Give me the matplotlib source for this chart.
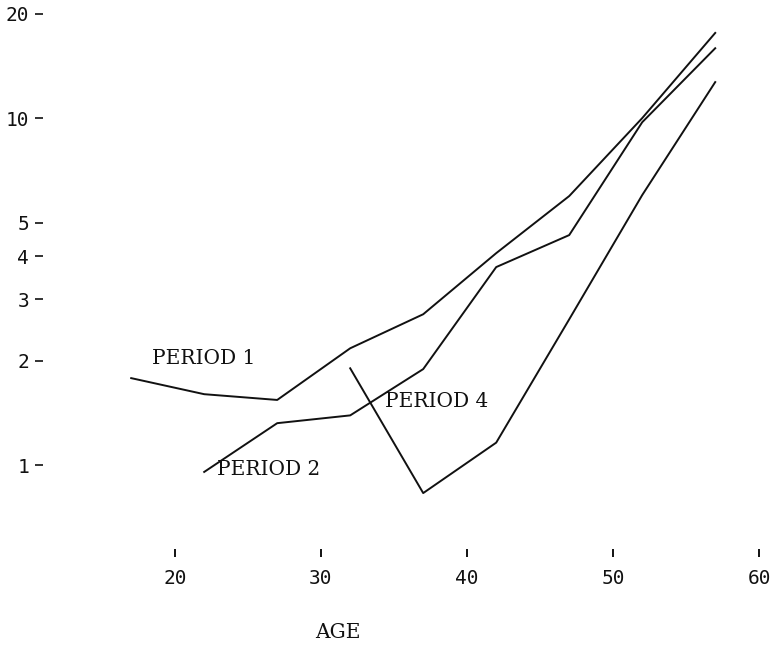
import numpy as np

import matplotlib
matplotlib.use('Agg')
import matplotlib.pyplot as plt

# age group midpoints
ages = [17, 22, 27, 32, 37, 42, 47, 52, 57]

period1 = [1.78, 1.60, 1.54, 2.17, 2.72, 4.08, 5.96, 10.0, 17.6]
period2_ages = ages[1:]
period2 = [0.955, 1.32, 1.39, 1.89, 3.72, 4.60, 9.73, 15.9]
period4_ages = [32, 37, 42, 47, 52, 57]
period4 = [1.90, 0.83, 1.16, 2.63, 6.0, 12.7]

yticks = [1, 2, 3, 4, 5, 10, 20]
xticks = [20, 30, 40, 50, 60]

W, H, dpi = 778, 647, 100
fig = plt.figure(figsize=(W/dpi, H/dpi), dpi=dpi)
# axes placed in pixels: left 43, bottom edge at y=557 from top
ax = fig.add_axes([43/W, (H-557)/H, (W-43)/W, 557/H])

ink = '#111111'
ax.plot(ages, period1, color=ink, lw=1.4)
ax.plot(period2_ages, period2, color=ink, lw=1.4)
ax.plot(period4_ages, period4, color=ink, lw=1.4)

ax.set_yscale('log')
ax.set_ylim(0.543, 21.9)
ax.set_xlim(10.96, 61.3)

for s in ax.spines.values():
    s.set_visible(False)

ax.set_yticks(yticks)
ax.set_yticklabels([str(t) for t in yticks])
ax.yaxis.set_minor_locator(matplotlib.ticker.NullLocator())
ax.set_xticks(xticks)
ax.set_xticklabels([str(t) for t in xticks])

ax.tick_params(axis='y', direction='out', length=6, width=1.2, pad=4,
               colors=ink, labelsize=14, labelfontfamily='DejaVu Sans Mono')
ax.tick_params(axis='x', direction='in', length=6, width=1.4, pad=9,
               colors=ink, labelsize=14, labelfontfamily='DejaVu Sans Mono')

lab = dict(fontsize=14.5, family='DejaVu Serif', color=ink, va='center', ha='left')
ax.text(18.4, 2.03, 'PERIOD 1', **lab)
ax.text(22.9, 0.97, 'PERIOD 2', **lab)
ax.text(34.4, 1.52, 'PERIOD 4', **lab)

ax.text(0.401, -0.136, 'AGE', transform=ax.transAxes, fontsize=14.5,
        family='DejaVu Serif', color=ink, ha='center', va='center')

fig.savefig('out.png', dpi=dpi)
plt.close(fig)
